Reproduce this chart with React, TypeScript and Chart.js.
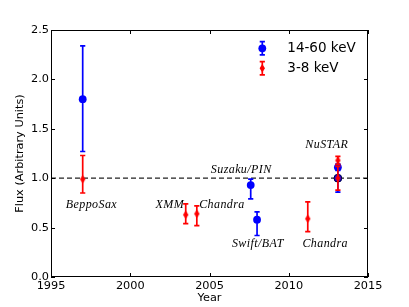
import { useEffect, useRef } from 'react';
import { Chart, registerables } from 'chart.js';

Chart.register(...registerables);

// 14-60 keV (blue circles)
const hardYears = [1997.0, 2007.6, 2008.0, 2013.1, 2013.1];
const hardFlux = [1.80, 0.93, 0.58, 1.11, 1.00];
const hardLow = [1.27, 0.79, 0.42, 1.08, 0.86];
const hardHigh = [2.34, 0.99, 0.66, 1.14, 1.14];

// 3-8 keV (red diamonds)
const softYears = [1997.0, 2003.5, 2004.2, 2011.2, 2013.1, 2013.1];
const softFlux = [0.99, 0.63, 0.64, 0.59, 1.18, 1.00];
const softLow = [0.85, 0.54, 0.52, 0.46, 1.14, 0.88];
const softHigh = [1.23, 0.74, 0.72, 0.76, 1.22, 1.12];

const seriesLabels = ['14-60 keV', '3-8 keV'];
const xTicks = [1995, 2000, 2005, 2010, 2015];
const yTicks = [0, 0.5, 1.0, 1.5, 2.0, 2.5];
const referenceLevel = 1.0;

const noteTexts = ['BeppoSax', 'XMM', 'Chandra', 'Suzaku/PIN', 'Swift/BAT', 'Chandra', 'NuSTAR'];
const noteYears = [1997.55, 2003.4, 2004.35, 2007.0, 2008.05, 2012.3, 2012.4];
const noteFlux = [0.73, 0.735, 0.735, 1.08, 0.34, 0.34, 1.335];
const noteAlign = ['center', 'right', 'left', 'center', 'center', 'center', 'center'];

const BLUE = '#0000ff';
const RED = '#ff0000';
const SANS = 'DejaVu Sans';
const SERIF = 'Liberation Serif';

function diamondPath(g: CanvasRenderingContext2D, x: number, y: number) {
  g.beginPath();
  g.moveTo(x, y - 4.3);
  g.lineTo(x + 2.7, y);
  g.lineTo(x, y + 4.3);
  g.lineTo(x - 2.7, y);
  g.closePath();
}

function makeDiamond(color: string) {
  const c = document.createElement('canvas');
  c.width = 7;
  c.height = 10;
  const g = c.getContext('2d')!;
  g.fillStyle = color;
  diamondPath(g, 3.5, 5);
  g.fill();
  return c;
}

function drawErrorBar(g: CanvasRenderingContext2D, x: number, y1: number, y2: number, color: string) {
  g.save();
  g.strokeStyle = color;
  g.lineWidth = 1.7;
  g.beginPath();
  g.moveTo(x, y1);
  g.lineTo(x, y2);
  g.moveTo(x - 2.6, y1);
  g.lineTo(x + 2.6, y1);
  g.moveTo(x - 2.6, y2);
  g.lineTo(x + 2.6, y2);
  g.stroke();
  g.restore();
}

const errSets = [
  { low: softLow, high: softHigh, color: RED },
  { low: hardLow, high: hardHigh, color: BLUE },
];

const decor = {
  id: 'decor',
  beforeDatasetsDraw(chart: any) {
    const { ctx, chartArea } = chart;
    const y = chart.scales.y.getPixelForValue(referenceLevel);
    ctx.save();
    ctx.strokeStyle = '#222';
    ctx.lineWidth = 1.3;
    ctx.setLineDash([5, 3]);
    ctx.beginPath();
    ctx.moveTo(chartArea.left, y);
    ctx.lineTo(chartArea.right, y);
    ctx.stroke();
    ctx.restore();
  },
  beforeDatasetDraw(chart: any, args: any) {
    const set = errSets[args.index];
    if (!set) return;
    const meta = chart.getDatasetMeta(args.index);
    const ys = chart.scales.y;
    meta.data.forEach((el: any, j: number) => {
      drawErrorBar(chart.ctx, el.x, ys.getPixelForValue(set.high[j]), ys.getPixelForValue(set.low[j]), set.color);
    });
  },
  afterDraw(chart: any) {
    const { ctx, chartArea } = chart;
    const { left, right, top, bottom } = chartArea;
    const xs = chart.scales.x;
    const ys = chart.scales.y;
    ctx.save();
    ctx.strokeStyle = '#000';
    ctx.lineWidth = 1;
    ctx.strokeRect(left + 0.5, top + 0.5, right - left - 1, bottom - top - 1);
    ctx.beginPath();
    const tl = 4;
    xTicks.forEach((v) => {
      const px = Math.round(xs.getPixelForValue(v)) + 0.5;
      ctx.moveTo(px, bottom);
      ctx.lineTo(px, bottom - tl);
      ctx.moveTo(px, top);
      ctx.lineTo(px, top + tl);
    });
    yTicks.forEach((v) => {
      const py = Math.round(ys.getPixelForValue(v)) + 0.5;
      ctx.moveTo(left, py);
      ctx.lineTo(left + tl, py);
      ctx.moveTo(right, py);
      ctx.lineTo(right - tl, py);
    });
    ctx.stroke();

    // annotations
    ctx.fillStyle = '#000';
    ctx.font = `italic 12px "${SERIF}"`;
    (ctx as any).letterSpacing = '0.4px';
    ctx.textBaseline = 'middle';
    noteTexts.forEach((t, i) => {
      ctx.textAlign = noteAlign[i] as CanvasTextAlign;
      ctx.fillText(t, xs.getPixelForValue(noteYears[i]), ys.getPixelForValue(noteFlux[i]));
    });
    (ctx as any).letterSpacing = '0px';

    // legend
    const mx = right - 105.7;
    const tx = right - 80.7;
    const rows = [top + 18.3, top + 38.3];
    const colors = [BLUE, RED];
    ctx.font = `13.5px "${SANS}"`;
    ctx.textAlign = 'left';
    rows.forEach((ry, i) => {
      drawErrorBar(ctx, mx, ry - 6.6, ry + 6.6, colors[i]);
      ctx.fillStyle = colors[i];
      if (i === 0) {
        ctx.beginPath();
        ctx.arc(mx, ry, 3.9, 0, Math.PI * 2);
        ctx.fill();
      } else {
        diamondPath(ctx, mx, ry);
        ctx.fill();
      }
      ctx.fillStyle = '#000';
      ctx.fillText(seriesLabels[i], tx, ry + 0.5);
    });
    ctx.restore();
  },
};

export default function App() {
  const ref = useRef<HTMLCanvasElement>(null);
  useEffect(() => {
    const axisFont = { family: SANS, size: 11.3 };
    const chart = new Chart(ref.current!, {
      type: 'scatter',
      data: {
        datasets: [
          {
            label: seriesLabels[1],
            data: softYears.map((x, i) => ({ x, y: softFlux[i] })),
            pointStyle: makeDiamond(RED) as any,
            pointRadius: 4,
            backgroundColor: RED,
            borderWidth: 0,
          },
          {
            label: seriesLabels[0],
            data: hardYears.map((x, i) => ({ x, y: hardFlux[i] })),
            pointStyle: 'circle',
            pointRadius: 3.9,
            backgroundColor: BLUE,
            borderColor: ['#0000ff', '#0000ff', '#0000ff', '#0000ff', '#000033'],
            borderWidth: [0, 0, 0, 0, 1],
          } as any,
        ],
      },
      options: {
        responsive: false,
        animation: false,
        devicePixelRatio: 1,
        layout: { padding: { left: 0, right: 41, top: 30, bottom: 0 } },
        plugins: { legend: { display: false }, tooltip: { enabled: false } },
        scales: {
          x: {
            type: 'linear',
            min: 1995,
            max: 2015,
            afterBuildTicks: (s: any) => {
              s.ticks = xTicks.map((value) => ({ value }));
            },
            afterFit: (s: any) => {
              s.height = 30;
            },
            grid: { display: false, drawTicks: false },
            border: { display: false },
            ticks: {
              color: '#000',
              font: axisFont,
              padding: 2,
              maxRotation: 0,
              autoSkip: false,
              callback: (v: any) => String(v),
            },
            title: {
              display: true,
              text: 'Year',
              color: '#000',
              font: axisFont,
              padding: { top: 0, bottom: 1.7 },
            },
          },
          y: {
            type: 'linear',
            min: 0,
            max: 2.5,
            afterBuildTicks: (s: any) => {
              s.ticks = yTicks.map((value) => ({ value }));
            },
            afterFit: (s: any) => {
              s.width = 51;
            },
            grid: { display: false, drawTicks: false },
            border: { display: false },
            ticks: {
              color: '#000',
              font: axisFont,
              padding: 2,
              autoSkip: false,
              callback: (v: any) => Number(v).toFixed(1),
            },
            title: {
              display: true,
              text: 'Flux (Arbitrary Units)',
              color: '#000',
              font: axisFont,
              padding: { top: 13.2, bottom: 0 },
            },
          },
        },
      },
      plugins: [decor],
    });
    return () => chart.destroy();
  }, []);
  return (
    <div style={{ position: 'fixed', left: 0, top: 0, width: 409, height: 307, background: '#fff' }}>
      <canvas ref={ref} width={409} height={307} style={{ display: 'block', width: 409, height: 307 }} />
    </div>
  );
}
